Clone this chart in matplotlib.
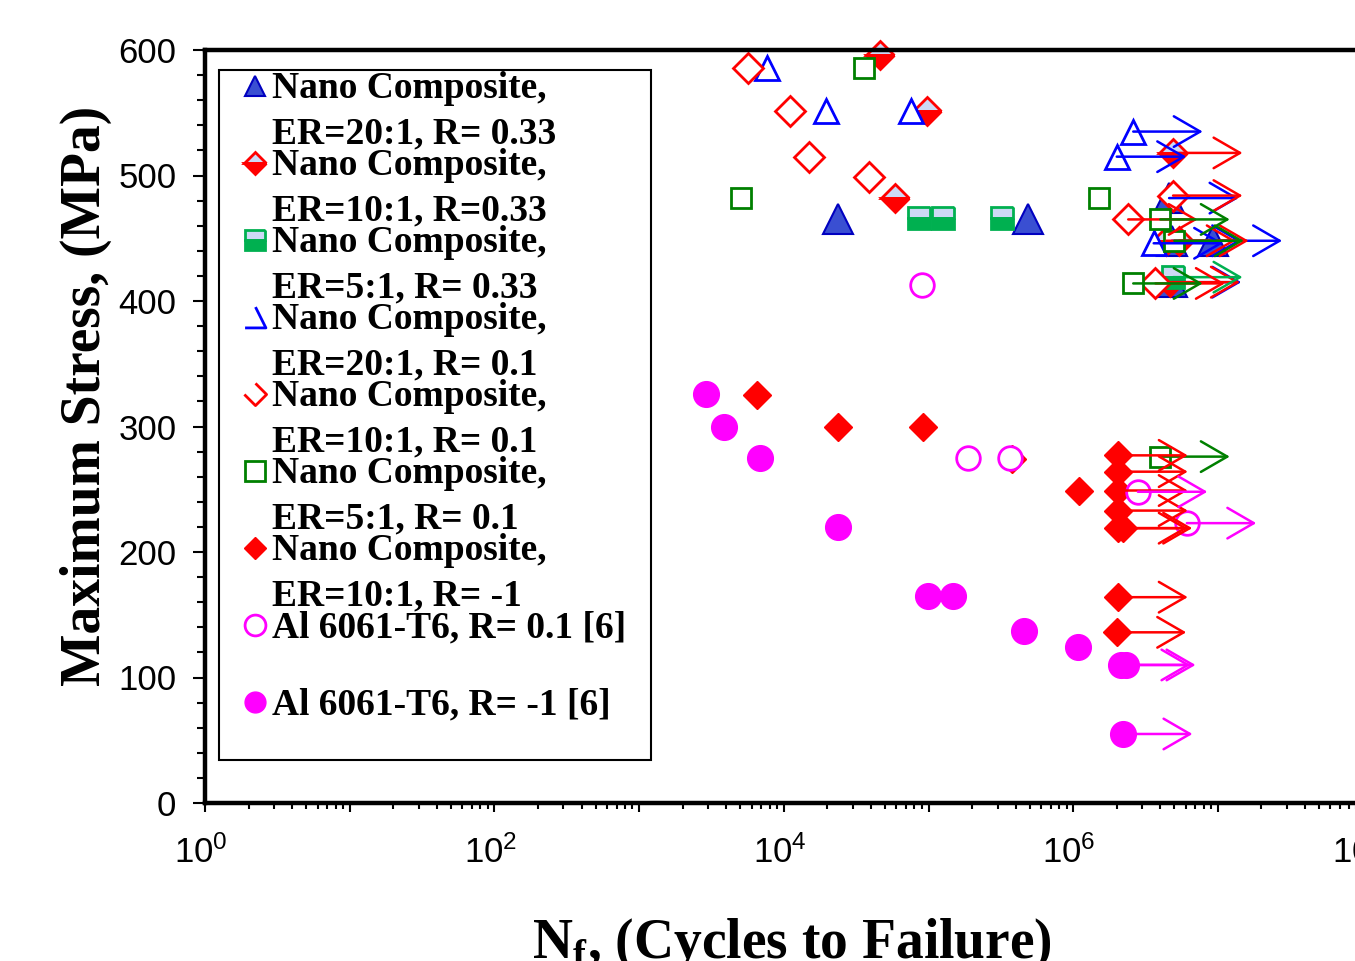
import numpy as np
import matplotlib
matplotlib.use("Agg")
import matplotlib.pyplot as plt
import matplotlib.transforms as mtransforms
from matplotlib.path import Path
from matplotlib.patches import Rectangle
from matplotlib.lines import Line2D
from matplotlib.ticker import LogLocator, MultipleLocator, FuncFormatter, NullFormatter

plt.rcParams["font.family"] = ["Liberation Sans", "DejaVu Sans"]
SERIF = ["Liberation Serif", "DejaVu Serif"]

# values: cycles to failure, max stress (MPa), run-out (1 = arrow)
a_n = [2.37e4, 4.9e5, 4.6e6, 9.2e6, 4.8e6, 4.8e6]            # ER=20:1, R=0.33
a_s = [465, 465, 482, 448, 448, 415]
a_run = [0, 0, 1, 1, 1, 1]

b_n = [4.6e4, 9.8e4, 5.9e4, 4.9e6, 4.4e6, 5.4e6, 4.7e6]      # ER=10:1, R=0.33
b_s = [596, 551, 482, 518, 448, 448, 415]
b_run = [0, 0, 0, 1, 1, 1, 1]

c_n = [8.6e4, 1.26e5, 3.2e5, 4.9e6]                          # ER=5:1, R=0.33
c_s = [466, 466, 466, 419]
c_run = [0, 0, 0, 1]

d_n = [7.6e3, 1.95e4, 7.6e4, 2.6e6, 2.0e6, 3.6e6]            # ER=20:1, R=0.1
d_s = [586, 551, 551, 535, 515, 446]
d_run = [0, 0, 0, 1, 1, 1]

e_n = [5.7e3, 1.1e4, 1.5e4, 3.9e4, 2.4e6, 4.9e6, 3.7e6]      # ER=10:1, R=0.1
e_s = [586, 551, 515, 499, 465, 484, 414]
e_run = [0, 0, 0, 0, 1, 1, 1]

f_n = [3.6e4, 5.1e3, 1.5e6, 4.0e6, 5.0e6, 2.6e6, 4.0e6]      # ER=5:1, R=0.1
f_s = [586, 482, 482, 465, 448, 414, 276]
f_run = [0, 0, 0, 1, 1, 1, 1]

g_n = [6.5e3, 2.37e4, 9.2e4, 3.8e5, 1.1e6, 2.05e6, 2.05e6, 2.05e6,
       2.05e6, 2.05e6, 2.2e6, 2.05e6, 2.0e6]                  # ER=10:1, R=-1
g_s = [325, 300, 300, 274, 249, 277, 264, 249, 233, 219, 219, 164, 136]
g_run = [0, 0, 0, 0, 0, 1, 1, 1, 1, 1, 1, 1, 1]

h_n = [9.0e4, 1.87e5, 3.66e5, 2.8e6, 6.1e6]                  # Al 6061-T6, R=0.1
h_s = [413, 275, 275, 248, 223]
h_run = [0, 0, 0, 1, 1]

i_n = [2.9e3, 3.86e3, 6.85e3, 2.37e4, 9.9e4, 1.48e5, 4.57e5,
       1.08e6, 2.14e6, 2.32e6, 2.21e6]                        # Al 6061-T6, R=-1
i_s = [326, 300, 275, 220, 165, 165, 137, 124, 110, 110, 55]
i_run = [0, 0, 0, 0, 0, 0, 0, 0, 1, 1, 1]

labels = [["Nano Composite,", "ER=20:1, R= 0.33"],
          ["Nano Composite,", "ER=10:1, R=0.33"],
          ["Nano Composite,", "ER=5:1, R= 0.33"],
          ["Nano Composite,", "ER=20:1, R= 0.1"],
          ["Nano Composite,", "ER=10:1, R= 0.1"],
          ["Nano Composite,", "ER=5:1, R= 0.1"],
          ["Nano Composite,", "ER=10:1, R= -1"],
          ["Al 6061-T6, R= 0.1 [6]"],
          ["Al 6061-T6, R= -1 [6]"]]

LB = "#cdd9f5"
BLUE, RED, GRN, DGRN, MAG = "#0000ff", "#ff0000", "#00b050", "#008000", "#ff00ff"
styles = [
    dict(marker="^", ms=21, mfc="#3a4fd2", mec="#0000c0", mew=1.5),
    dict(marker="D", ms=14, mfc=LB, mfcalt=RED, fillstyle="top", mec=RED, mew=2),
    dict(marker="s", ms=16, mfc=LB, mfcalt=GRN, fillstyle="top", mec=GRN, mew=2),
    dict(marker="^", ms=17, mfc="white", mec=BLUE, mew=2),
    dict(marker="D", ms=15, mfc="white", mec=RED, mew=2),
    dict(marker="s", ms=15, mfc="white", mec=DGRN, mew=2),
    dict(marker="D", ms=14, mfc=RED, mec=RED, mew=1),
    dict(marker="o", ms=17, mfc="white", mec=MAG, mew=2),
    dict(marker="o", ms=18.5, mfc=MAG, mec=MAG, mew=1),
]
arrow_cols = [BLUE, RED, GRN, BLUE, RED, DGRN, RED, MAG, MAG]
data = [(a_n, a_s, a_run), (b_n, b_s, b_run), (c_n, c_s, c_run),
        (d_n, d_s, d_run), (e_n, e_s, e_run), (f_n, f_s, f_run),
        (g_n, g_s, g_run), (h_n, h_s, h_run), (i_n, i_s, i_run)]
ARROW_DEC = 0.48   # run-out arrow length, decades

W, H = 1355, 961
fig = plt.figure(figsize=(W / 100, H / 100), dpi=100)
ax = fig.add_axes([205 / W, 1 - 803 / H, (1362.6 - 205) / W, 753 / H])

for (n, s, run), st, col in zip(data, styles, arrow_cols):
    ax.plot(n, s, ls="none", clip_on=False, **st)
    for x, y, r in zip(n, s, run):
        if r:
            ax.annotate("", xy=(x * 10 ** ARROW_DEC, y), xytext=(x, y),
                        arrowprops=dict(arrowstyle="->,head_length=0.95,head_width=0.55",
                                        color=col, lw=1.8, shrinkA=0, shrinkB=0,
                                        mutation_scale=20))

ax.set_xscale("log")
ax.set_xlim(1, 1e8)
ax.set_ylim(0, 600)
ax.xaxis.set_major_locator(LogLocator(base=10, subs=(1.0,), numticks=20))
ax.xaxis.set_minor_locator(LogLocator(base=10, subs=np.arange(2, 10), numticks=100))
ax.xaxis.set_major_formatter(FuncFormatter(
    lambda v, p: r"$\mathdefault{10^{%d}}$" % round(np.log10(v)) if round(np.log10(v)) % 2 == 0 else ""))
ax.xaxis.set_minor_formatter(NullFormatter())
ax.yaxis.set_major_locator(MultipleLocator(100))
ax.yaxis.set_minor_locator(MultipleLocator(20))

ax.tick_params(axis="y", which="major", direction="out", length=8.6, width=1.5, pad=12, labelsize=25)
ax.tick_params(axis="y", which="minor", direction="out", length=5.8, width=1.5)
ax.tick_params(axis="x", which="major", direction="out", length=6.5, width=1.5, pad=17, labelsize=25)
ax.tick_params(axis="x", which="minor", direction="out", length=4.3, width=1.5)
# the reference's decade labels sit slightly left of their ticks
shift = mtransforms.ScaledTranslation(-4 / 100, 0, fig.dpi_scale_trans)
for lab in ax.get_xticklabels():
    lab.set_transform(lab.get_transform() + shift)
for side in ["top", "bottom", "left"]:
    ax.spines[side].set_linewidth(3.2)
ax.spines["right"].set_visible(False)

ax.set_xlabel(r"N$_\mathdefault{f}$, (Cycles to Failure)", fontsize=40, fontweight="bold", family=SERIF)
ax.xaxis.label.set_va("baseline")
ax.xaxis.set_label_coords((792 - 205) / 1157.6, (803 - 958) / 753)
ax.set_ylabel("Maximum Stress, (MPa)", fontsize=40, fontweight="bold", family=SERIF)
ax.yaxis.label.set_va("baseline")
ax.yaxis.set_label_coords((100 - 205) / 1157.6, (803 - 396) / 753)

# legend drawn by hand: marker sits on the first text line of each entry
def fx(x): return x / W
def fy(y): return 1 - y / H

fig.add_artist(Rectangle((fx(219), fy(760)), (651 - 219) / W, (760 - 70) / H,
                         transform=fig.transFigure, facecolor="white",
                         edgecolor="black", lw=1.5, zorder=5))
tri_part = Path([(0, 1), (1, -1), (-1, -1)], [Path.MOVETO, Path.LINETO, Path.LINETO])
dia_part = Path([(0, 1), (1, 0), (0, -1), (-1, 0)],
                [Path.MOVETO, Path.LINETO, Path.LINETO, Path.LINETO])
leg_ms = {"^": 15, "D": 11, "s": 15, "o": 15}
leg_styles = []
for k, st in enumerate(styles):
    st = dict(st)
    st["ms"] = leg_ms[st["marker"]]
    if k == 3:
        st.update(marker=tri_part, ms=15, mfc="none")
    if k == 4:
        st.update(marker=dia_part, ms=16, mfc="none")
    leg_styles.append(st)

for k, (st, lines) in enumerate(zip(leg_styles, labels)):
    base = 98 + 77 * k
    fig.add_artist(Line2D([fx(255)], [fy(base - 12)], transform=fig.transFigure,
                          ls="none", zorder=6, **st))
    for j, line in enumerate(lines):
        fig.text(fx(272), fy(base + 45 * j), line, fontsize=27, fontweight="bold",
                 family=SERIF, va="baseline", ha="left", zorder=6)

fig.savefig("out.png", dpi=100)
